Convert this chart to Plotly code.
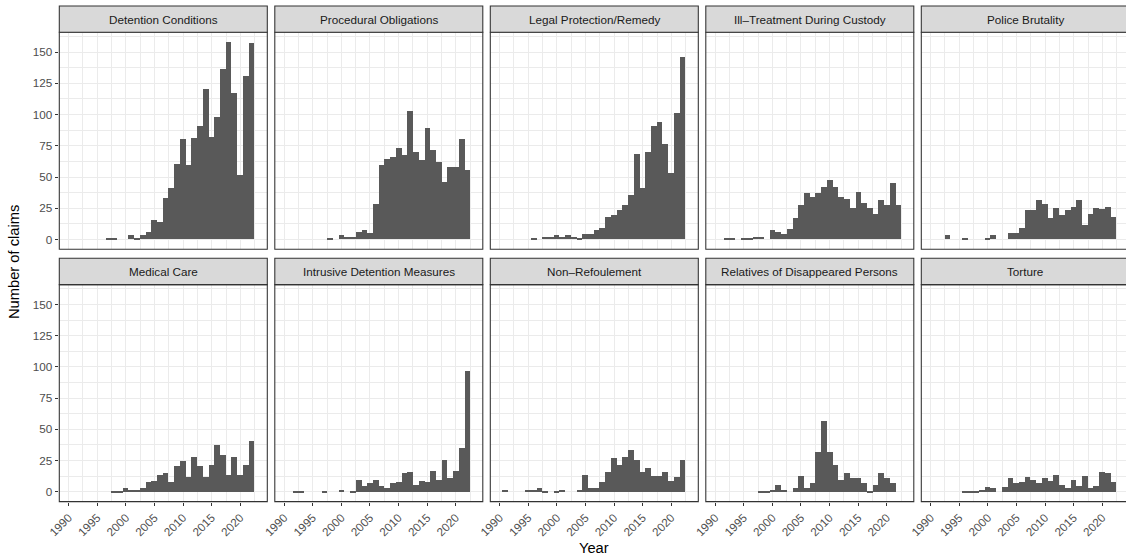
import plotly.graph_objects as go

# ---------------- data ----------------
years = list(range(1990, 2023))

categories = [
    "Detention Conditions", "Procedural Obligations", "Legal Protection/Remedy",
    "Ill\u2013Treatment During Custody", "Police Brutality",
    "Medical Care", "Intrusive Detention Measures", "Non\u2013Refoulement",
    "Relatives of Disappeared Persons", "Torture",
]

#                      1990                     1995                     2000                     2005                      2010                        2015                         2020
detention_conditions = [0, 0, 0, 0, 0,   0, 0, 1, 1, 0,   0, 3, 1, 3, 6,   15, 14, 33, 41, 60,   80, 59, 81, 91, 120,   82, 98, 136, 158, 117,   51, 131, 157]
procedural_obligations = [0, 0, 0, 0, 0,  0, 0, 0, 1, 0,   3, 2, 2, 6, 7,   5, 28, 59, 64, 66,    73, 67, 103, 70, 63,   89, 71, 62, 46, 58,      58, 80, 55]
legal_protection = [0, 0, 0, 0, 0,        0, 1, 0, 2, 2,   3, 2, 3, 2, 1,   4, 4, 7, 9, 18,       19, 23, 27, 35, 68,    41, 70, 91, 94, 76,      53, 101, 146]
ill_treatment = [0, 0, 1, 1, 0,           1, 1, 2, 2, 0,   7, 6, 4, 8, 17,  27, 37, 34, 37, 42,   47, 42, 34, 32, 25,    38, 29, 25, 20, 31,      27, 45, 27]
police_brutality = [0, 0, 0, 3, 0,        0, 1, 0, 0, 0,   1, 3, 0, 0, 5,   5, 9, 23, 23, 31,     28, 17, 25, 19, 23,    26, 31, 11, 20, 25,      24, 26, 18]
medical_care = [0, 0, 0, 0, 0,            0, 0, 0, 1, 1,   3, 2, 2, 3, 8,   9, 14, 15, 8, 21,     25, 12, 28, 21, 12,    22, 38, 30, 14, 28,      14, 22, 41]
intrusive_detention = [0, 0, 1, 1, 0,     0, 0, 1, 0, 0,   2, 0, 1, 10, 5,  7, 10, 5, 3, 7,       8, 15, 16, 6, 9,       8, 17, 10, 26, 11,       17, 35, 97]
non_refoulement = [0, 2, 0, 0, 0,         2, 2, 3, 1, 0,   1, 2, 0, 0, 2,   14, 3, 3, 8, 16,      27, 22, 28, 34, 26,    16, 19, 13, 13, 16,      9, 12, 26]
relatives_disappeared = [0, 0, 0, 0, 0,   0, 0, 0, 1, 1,   2, 6, 2, 0, 3,   13, 3, 7, 32, 57,     32, 22, 10, 15, 11,    11, 7, 1, 6, 15,         11, 7, 0]
torture = [0, 0, 0, 0, 0,                 0, 1, 1, 1, 2,   4, 3, 0, 4, 11,  7, 8, 12, 10, 7,      11, 9, 14, 6, 3,       10, 5, 13, 3, 5,         16, 15, 8]

series = [detention_conditions, procedural_obligations, legal_protection, ill_treatment,
          police_brutality, medical_care, intrusive_detention, non_refoulement,
          relatives_disappeared, torture]

x_ticks = [1990, 1995, 2000, 2005, 2010, 2015, 2020]
x_minor = [1992.5, 1997.5, 2002.5, 2007.5, 2012.5, 2017.5, 2022.5]
y_ticks = [0, 25, 50, 75, 100, 125, 150]
y_minor = [12.5, 37.5, 62.5, 87.5, 112.5, 137.5, 162.5]

# ---------------- layout geometry (pixels) ----------------
W, H = 1126, 558
FONT = "Liberation Sans, Arial, Helvetica, sans-serif"
col_left = [59.3 + 215.5 * c for c in range(5)]
panel_w = 208.0
strip_top = [6.0, 258.3]
strip_h = 26.3
panel_h = 217.0
x_range = [1988.36, 2024.72]
y_range = [-7.9, 165.9]

BAR = "#595959"
GRID = "#EBEBEB"
BORDER = "#333333"
STRIP = "#D9D9D9"


def fx(p):
    return p / W


def fy(p):
    return 1 - p / H


fig = go.Figure()
layout = dict(
    width=W, height=H,
    margin=dict(l=0, r=0, t=0, b=0, pad=0, autoexpand=False),
    paper_bgcolor="white", plot_bgcolor="white",
    showlegend=False, bargap=0, template="none",
    font=dict(family=FONT),
)
shapes = []
annotations = []

for i, (name, vals) in enumerate(zip(categories, series)):
    r, c = divmod(i, 5)
    n = i + 1
    xa = "xaxis" if n == 1 else f"xaxis{n}"
    ya = "yaxis" if n == 1 else f"yaxis{n}"
    xr = "x" if n == 1 else f"x{n}"
    yr = "y" if n == 1 else f"y{n}"

    left = col_left[c]
    right = left + panel_w
    top = strip_top[r] + strip_h
    bottom = top + panel_h

    rng = list(x_range)
    vis_right = right
    if right > W:
        vis_right = W
        rng[1] = x_range[0] + (W - left) / panel_w * (x_range[1] - x_range[0])

    xs = [y for y, v in zip(years, vals) if v > 0]
    ys = [v for v in vals if v > 0]
    fig.add_trace(go.Bar(
        x=xs, y=ys, width=1.0,
        marker=dict(color=BAR, line=dict(width=0)),
        xaxis=xr, yaxis=yr, hoverinfo="x+y",
    ))

    bottom_row = (r == 1)
    layout[xa] = dict(
        domain=[fx(left), fx(vis_right)], range=rng, anchor=yr, automargin=False,
        showgrid=True, gridcolor=GRID, gridwidth=1.07, zeroline=False,
        tickvals=x_ticks, ticktext=[str(t) for t in x_ticks],
        showticklabels=bottom_row, ticks="outside" if bottom_row else "",
        ticklen=3.7, tickwidth=1.07, tickcolor=BORDER, tickangle=-45,
        tickfont=dict(size=11.7, color="#4D4D4D", family=FONT),
        minor=dict(tickvals=x_minor, showgrid=True, gridcolor=GRID, gridwidth=0.55, ticks=""),
        showline=False, fixedrange=True,
    )
    first_col = (c == 0)
    layout[ya] = dict(
        domain=[fy(bottom), fy(top)], range=y_range, anchor=xr, automargin=False,
        showgrid=True, gridcolor=GRID, gridwidth=1.07, zeroline=False,
        tickvals=y_ticks, ticktext=[str(t) for t in y_ticks],
        showticklabels=first_col, ticks="outside" if first_col else "",
        ticklen=3.7, tickwidth=1.07, tickcolor=BORDER,
        tickfont=dict(size=11.7, color="#4D4D4D", family=FONT),
        minor=dict(tickvals=y_minor, showgrid=True, gridcolor=GRID, gridwidth=0.55, ticks=""),
        showline=False, fixedrange=True,
    )

    # panel border
    shapes.append(dict(type="rect", xref="paper", yref="paper",
                       x0=fx(left), x1=fx(right), y0=fy(bottom), y1=fy(top),
                       line=dict(color=BORDER, width=1.07), fillcolor="rgba(0,0,0,0)", layer="above"))
    # strip
    shapes.append(dict(type="rect", xref="paper", yref="paper",
                       x0=fx(left), x1=fx(right), y0=fy(top), y1=fy(strip_top[r]),
                       line=dict(color=BORDER, width=1.07), fillcolor=STRIP, layer="above"))
    annotations.append(dict(
        text=name, xref="paper", yref="paper",
        x=fx((left + right) / 2), y=fy(strip_top[r] + strip_h / 2),
        xanchor="center", yanchor="middle", showarrow=False,
        font=dict(size=11.7, color="#1A1A1A", family=FONT),
    ))

annotations.append(dict(
    text="Number of claims", xref="paper", yref="paper",
    x=fx(14), y=fy(262), xanchor="center", yanchor="middle",
    textangle=-90, showarrow=False, font=dict(size=14.7, color="black", family=FONT),
))
annotations.append(dict(
    text="Year", xref="paper", yref="paper",
    x=fx(594), y=fy(548), xanchor="center", yanchor="middle",
    showarrow=False, font=dict(size=14.7, color="black", family=FONT),
))

layout["shapes"] = shapes
layout["annotations"] = annotations
fig.update_layout(**layout)
fig.write_html("out.html")
